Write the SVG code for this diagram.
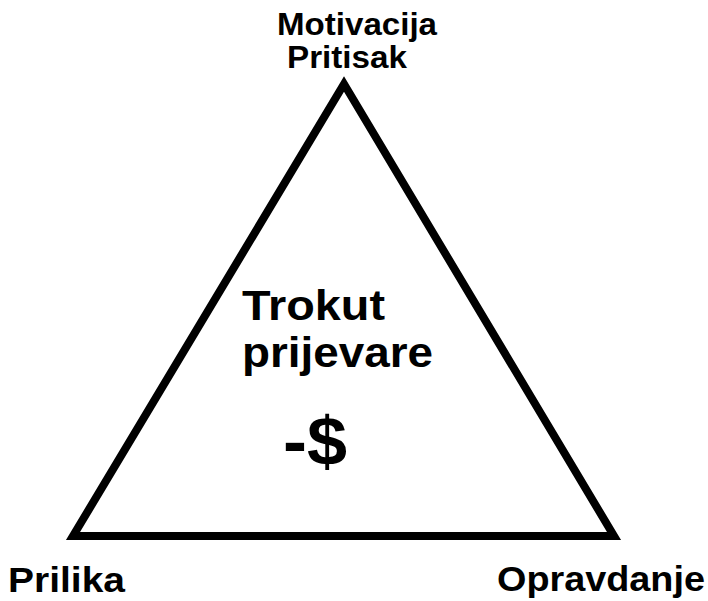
<svg xmlns="http://www.w3.org/2000/svg" width="708" height="601" viewBox="0 0 708 601">
<style>
.t{font-family:"Liberation Sans",Arial,sans-serif;font-weight:bold;fill:#000}
</style>
<rect width="708" height="601" fill="#fff"/>
<g id="connectors">
<polygon points="344,84 73,536 614,536" fill="none" stroke="#000" stroke-width="8" stroke-linejoin="miter"/>
</g>
<g id="top"><text class="t" font-size="31" x="277" y="35" textLength="160" lengthAdjust="spacingAndGlyphs">Motivacija</text>
<text class="t" font-size="31" x="287" y="68" textLength="120" lengthAdjust="spacingAndGlyphs">Pritisak</text></g>
<g id="center"><text class="t" font-size="42" x="242" y="320" textLength="143" lengthAdjust="spacingAndGlyphs">Trokut</text>
<text class="t" font-size="42" x="242" y="367" textLength="191" lengthAdjust="spacingAndGlyphs">prijevare</text>
<text class="t" font-size="68" x="283" y="465" textLength="64" lengthAdjust="spacingAndGlyphs">-$</text></g>
<g id="left"><text class="t" font-size="35" x="8" y="592" textLength="117" lengthAdjust="spacingAndGlyphs">Prilika</text></g>
<g id="right"><text class="t" font-size="35" x="497" y="591" textLength="208" lengthAdjust="spacingAndGlyphs">Opravdanje</text></g>
</svg>
